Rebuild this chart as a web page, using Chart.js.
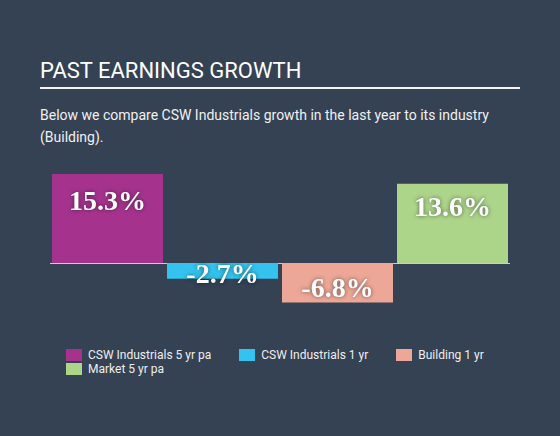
<!DOCTYPE html>
<html>
<head>
<meta charset="utf-8">
<script src="https://cdn.jsdelivr.net/npm/chart.js@4/dist/chart.umd.min.js"></script>
<style>
  html, body { margin: 0; padding: 0; }
  body {
    width: 560px; height: 436px; overflow: hidden;
    background: #344254; position: relative;
    font-family: Roboto, "Noto Sans", sans-serif; color: #f2f2f2;
  }
  .title {
    position: absolute; left: 40px; top: 58px;
    font-size: 22px; font-weight: 400; color: #ffffff;
  }
  .rule {
    position: absolute; left: 40px; top: 87px; width: 480px; height: 1.5px; background: #f4f4f4;
  }
  .subtitle {
    position: absolute; left: 40px; top: 104px; width: 470px;
    font-size: 14px; line-height: 22px; color: #f0f0f0;
  }
  .chart-box { position: absolute; left: 50px; top: 160px; width: 460px; height: 160px; }
  .legend {
    position: absolute; left: 66px; top: 349px; width: 470px;
    display: flex; flex-wrap: wrap; column-gap: 28px; row-gap: 2px;
    font-size: 12px; line-height: 12px; color: #eeeeee;
  }
  .legend-item { display: flex; align-items: center; }
  .legend-swatch { width: 16px; height: 12px; margin-right: 6px; }
</style>
</head>
<body>
<div class="title">PAST EARNINGS GROWTH</div>
<div class="rule"></div>
<div class="subtitle">Below we compare CSW Industrials growth in the last year to its industry (Building).</div>
<div class="chart-box"><canvas id="chart" width="460" height="160"></canvas></div>
<div class="legend" id="legend"></div>

<script>
// series shown as bars, one per dataset
const seriesNames = ['CSW Industrials 5 yr pa', 'CSW Industrials 1 yr', 'Building 1 yr', 'Market 5 yr pa'];
const seriesValues = [15.3, -2.7, -6.8, 13.6];
const seriesColors = ['#a5338e', '#33c3ee', '#eda797', '#acd58a'];

// value labels drawn on each bar, positioned relative to the bar end
const barLabels = {
  id: 'barLabels',
  afterDatasetsDraw(chart) {
    const ctx = chart.ctx;
    const zero = chart.scales.y.getPixelForValue(0);
    ctx.save();
    ctx.font = 'bold 28px "Liberation Serif", "DejaVu Serif", serif';
    ctx.textAlign = 'center';
    ctx.textBaseline = 'middle';
    ctx.fillStyle = '#ffffff';
    ctx.shadowColor = 'rgba(0,0,0,0.55)';
    ctx.shadowBlur = 4;
    chart.data.datasets.forEach((ds, i) => {
      const bar = chart.getDatasetMeta(i).data[0];
      const v = ds.data[0];
      const h = Math.abs(bar.base - bar.y);
      let y;
      if (v >= 0) {
        y = bar.y + h * 0.32;
      } else {
        y = Math.max(bar.y - h * 0.32, zero + 13);
      }
      ctx.fillText(v.toFixed(1) + '%', bar.x, y);
    });
    ctx.restore();
  }
};

// thin zero line under the bars
const zeroLine = {
  id: 'zeroLine',
  beforeDatasetsDraw(chart) {
    const ctx = chart.ctx;
    const y = Math.round(chart.scales.y.getPixelForValue(0)) + 0.5;
    ctx.save();
    ctx.strokeStyle = '#c9ccd1';
    ctx.lineWidth = 1;
    ctx.beginPath();
    ctx.moveTo(chart.chartArea.left, y);
    ctx.lineTo(chart.chartArea.right, y);
    ctx.stroke();
    ctx.restore();
  }
};

const chart = new Chart(document.getElementById('chart'), {
  type: 'bar',
  data: {
    labels: [''],
    datasets: seriesNames.map((name, i) => ({
      label: name,
      data: [seriesValues[i]],
      backgroundColor: seriesColors[i],
      borderWidth: 0,
      categoryPercentage: 1,
      barPercentage: 0.965,
    })),
  },
  options: {
    responsive: false,
    animation: false,
    layout: { padding: 0 },
    plugins: {
      legend: { display: false },
      tooltip: { enabled: false },
    },
    scales: {
      x: { display: false },
      y: { display: false, min: -9.8, max: 17.7 },
    },
  },
  plugins: [zeroLine, barLabels],
});

// html legend built from the chart's datasets
const legendEl = document.getElementById('legend');
chart.data.datasets.forEach(ds => {
  const item = document.createElement('div');
  item.className = 'legend-item';
  const sw = document.createElement('span');
  sw.className = 'legend-swatch';
  sw.style.background = ds.backgroundColor;
  const txt = document.createElement('span');
  txt.textContent = ds.label;
  item.appendChild(sw);
  item.appendChild(txt);
  legendEl.appendChild(item);
});
</script>
</body>
</html>
